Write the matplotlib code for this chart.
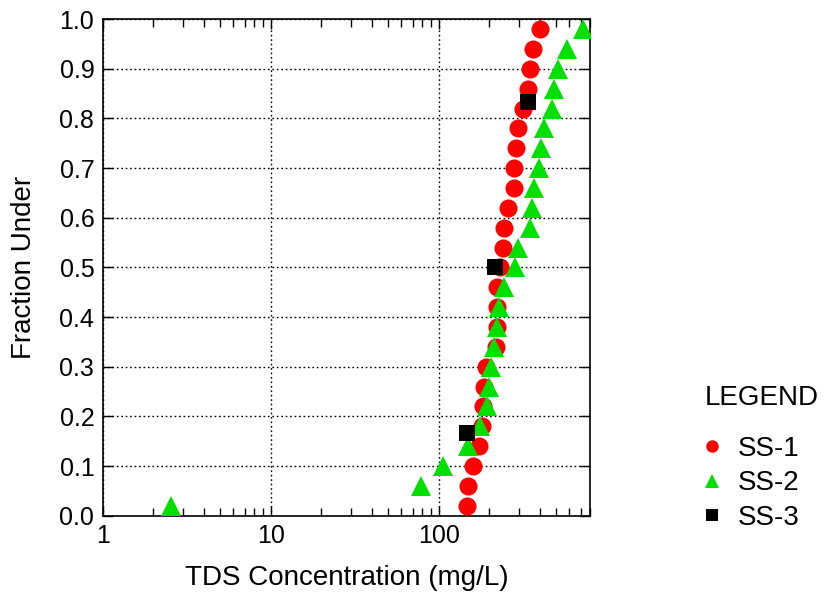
import matplotlib
matplotlib.use("Agg")
import matplotlib.pyplot as plt
from matplotlib.lines import Line2D
from matplotlib.ticker import LogLocator, FixedLocator, NullFormatter

plt.rcParams['font.family'] = ['Liberation Sans', 'DejaVu Sans']

# fraction under (y) and TDS (mg/L) per sample set
frac_25 = [0.02, 0.06, 0.10, 0.14, 0.18, 0.22, 0.26, 0.30, 0.34, 0.38, 0.42, 0.46, 0.50,
           0.54, 0.58, 0.62, 0.66, 0.70, 0.74, 0.78, 0.82, 0.86, 0.90, 0.94, 0.98]
ss1_tds = [147, 149, 160, 174, 181, 183, 186, 191, 219, 222, 222, 222, 232,
           242, 245, 259, 281, 281, 289, 297, 318, 341, 351, 366, 403]
ss2_tds = [2.55, 78, 106, 149, 176, 194, 199, 205, 213, 222, 229, 245, 285,
           297, 351, 360, 371, 397, 408, 426, 475, 489, 516, 584, 728]
frac_3 = [0.167, 0.500, 0.833]
ss3_tds = [147, 216, 341]

fig = plt.figure(figsize=(8.28, 5.99), dpi=100)
ax = fig.add_axes([0.124, 0.139, 0.589, 0.829])

ax.plot(ss1_tds, frac_25, 'o', color='#ff0000', markersize=13, markeredgewidth=0, zorder=3)
ax.plot(ss2_tds, frac_25, '^', color='#00e000', markersize=14, markeredgewidth=0, zorder=4)
ax.plot(ss3_tds, frac_3, 's', color='black', markersize=11, markeredgewidth=0, zorder=5)

ax.set_xscale('log')
ax.set_xlim(1, 800)
ax.set_ylim(0, 1)
ax.xaxis.set_major_locator(FixedLocator([1, 10, 100]))
ax.xaxis.set_minor_locator(LogLocator(base=10, subs=range(2, 10)))
ax.xaxis.set_minor_formatter(NullFormatter())
ax.set_xticklabels(['1', '10', '100'])
ax.set_yticks([i / 10 for i in range(11)])
ax.set_yticklabels(['%.1f' % (i / 10) for i in range(11)])

ax.grid(True, which='major', color='black', linestyle=(0, (1.2, 2)), linewidth=1)
ax.tick_params(which='both', direction='in', top=True, right=True, labelsize=18, pad=6)
ax.tick_params(which='major', length=7, width=1)
ax.tick_params(which='minor', length=6, width=1)
for s in ax.spines.values():
    s.set_linewidth(1.2)

ax.set_xlabel('TDS Concentration (mg/L)', fontsize=20, labelpad=12)
ax.set_ylabel('Fraction Under', fontsize=20, labelpad=16)

handles = [
    Line2D([], [], linestyle='none', marker='o', color='#ff0000', markersize=9, markeredgewidth=0),
    Line2D([], [], linestyle='none', marker='^', color='#00e000', markersize=10, markeredgewidth=0),
    Line2D([], [], linestyle='none', marker='s', color='black', markersize=9, markeredgewidth=0),
]
leg = fig.legend(handles, ['SS-1', 'SS-2', 'SS-3'], title='LEGEND', loc='upper left',
                 bbox_to_anchor=(0.851, 0.357), frameon=False, fontsize=20, title_fontsize=20,
                 alignment='left', handletextpad=0.7, handlelength=0.5, labelspacing=0.3,
                 borderpad=0, borderaxespad=0)
leg._legend_box.sep = 18

fig.savefig('out.png', dpi=100)
